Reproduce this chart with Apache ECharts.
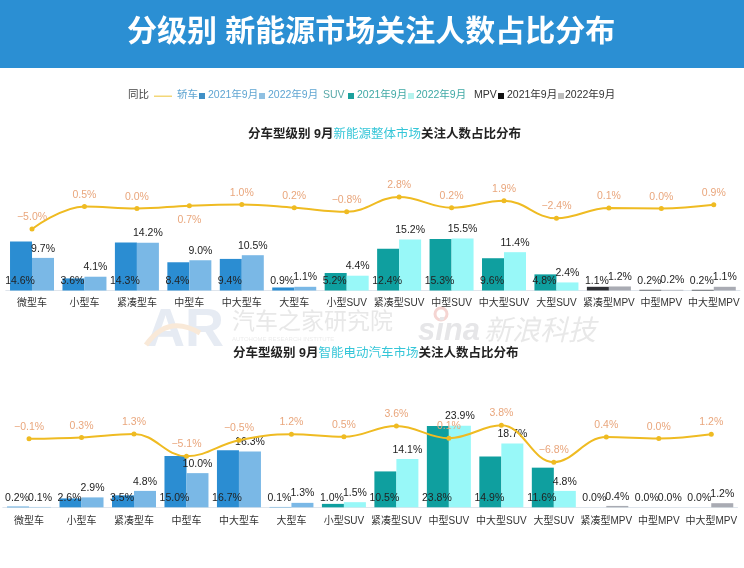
<!DOCTYPE html>
<html>
<head>
<meta charset="utf-8">
<script src="https://cdn.jsdelivr.net/npm/echarts@6/dist/echarts.min.js"></script>
<style>
html,body{margin:0;padding:0;background:#fff;}
#main{width:744px;height:568px;}
</style>
</head>
<body>
<div id="main"></div>
<script>
var categories = ['微型车','小型车','紧凑型车','中型车','中大型车','大型车','小型SUV','紧凑型SUV','中型SUV','中大型SUV','大型SUV','紧凑型MPV','中型MPV','中大型MPV'];

var allShare2021 = [14.6,3.6,14.3,8.4,9.4,0.9,5.2,12.4,15.3,9.6,4.8,1.1,0.2,0.2];
var allShare2022 = [9.7,4.1,14.2,9.0,10.5,1.1,4.4,15.2,15.5,11.4,2.4,1.2,0.2,1.1];
var allYoy = [-5.0,0.5,0.0,0.7,1.0,0.2,-0.8,2.8,0.2,1.9,-2.4,0.1,0.0,0.9];

var smartShare2021 = [0.2,2.6,3.5,15.0,16.7,0.1,1.0,10.5,23.8,14.9,11.6,0.0,0.0,0.0];
var smartShare2022 = [0.1,2.9,4.8,10.0,16.3,1.3,1.5,14.1,23.9,18.7,4.8,0.4,0.0,1.2];
var smartYoy = [-0.1,0.3,1.3,-5.1,-0.5,1.2,0.5,3.6,0.1,3.8,-6.8,0.4,0.0,1.2];

var colors2021 = ['#2b8dd2','#0f9f9f','#2f3035'];
var colors2022 = ['#7ab8e6','#98f8f8','#a9abb3'];
var orange = '#e9a67c';
var font = '"Liberation Sans","Noto Sans CJK SC",sans-serif';

function groupOf(i){
    return i < 6 ? 0 : (i < 11 ? 1 : 2);
}
function pct(v){
    return v.toFixed(1).replace('-','\u2212') + '%';
}
function barData(values, palette){
    return values.map(function(v,i){
        return {value:v, itemStyle:{color:palette[groupOf(i)]}};
    });
}
// labels that sit below the line instead of above it
function lineData(values, below){
    return values.map(function(v,i){
        if (below.indexOf(i) >= 0) return {value:v, label:{position:'bottom', distance:7}};
        return v;
    });
}
function makeSeries(idx, s21, s22, yoy, below){
    return [{
        type:'bar', xAxisIndex:idx, yAxisIndex:idx*2, barWidth:22, barGap:0,
        data:barData(s21, colors2021),
        label:{show:true, position:'insideBottom', distance:4, offset:[-1,0], color:'#222', fontSize:10.5, fontFamily:font,
            formatter:function(p){return pct(p.value);}}
    },{
        type:'bar', xAxisIndex:idx, yAxisIndex:idx*2, barWidth:22, barGap:0,
        data:barData(s22, colors2022),
        label:{show:true, position:'top', distance:4, color:'#222', fontSize:10.5, fontFamily:font,
            formatter:function(p){return pct(p.value);}}
    },{
        type:'line', xAxisIndex:idx, yAxisIndex:idx*2+1, smooth:0.4, symbol:'circle', symbolSize:5, z:5,
        data:lineData(yoy, below),
        lineStyle:{color:'#efbb22', width:2},
        itemStyle:{color:'#efbb22'},
        label:{show:true, position:'top', distance:4, color:orange, fontSize:10.5, fontFamily:font,
            formatter:function(p){return pct(p.value);}}
    }];
}
function xAxis(idx, margin){
    return {type:'category', gridIndex:idx, data:categories,
        axisTick:{show:false},
        axisLine:{lineStyle:{color:'#dfe5ec', width:1}},
        axisLabel:{interval:0, color:'#333', fontSize:10, margin:margin, fontFamily:font}};
}
function yAxis(idx, min, max){
    return {type:'value', gridIndex:idx, min:min, max:max, show:false, splitLine:{show:false}};
}
function titleOf(left, top, mid){
    return {left:left, top:top, text:'分车型级别 9月{c|'+mid+'}关注人数占比分布',
        textStyle:{fontSize:12.5, fontWeight:'bold', color:'#222', fontFamily:font,
            rich:{c:{fontSize:12.5, fontWeight:'normal', color:'#35c6d8', fontFamily:font}}}};
}
function legendText(x, str, color){
    return {type:'text', left:x, top:90, style:{text:str, fill:color, fontSize:10.5, fontFamily:font}};
}
function legendBox(x, color){
    return {type:'rect', left:x, top:93, shape:{width:6, height:6}, style:{fill:color}};
}
function markText(x, y, str, size, color, extra){
    var st = {text:str, fill:color, fontSize:size, fontFamily:font};
    for (var k in extra) st[k] = extra[k];
    return {type:'text', left:x, top:y, z:-1, style:st};
}

var graphics = [
    {type:'rect', left:0, top:0, z:-2, shape:{width:744, height:68}, style:{fill:'#2b8fd3'}},
    {type:'text', left:127, top:18, style:{text:'分级别 新能源市场关注人数占比分布', fill:'#fff', fontSize:30, fontWeight:'bold', fontFamily:font}},

    legendText(128,'同比','#444'),
    {type:'rect', left:154, top:95.5, shape:{width:18, height:1.5}, style:{fill:'#f3d778'}},
    legendText(177,'轿车','#5fa5d2'),
    legendBox(199,'#3f8fc6'),
    legendText(208,'2021年9月','#5fa5d2'),
    legendBox(259,'#8fc0e2'),
    legendText(268,'2022年9月','#5fa5d2'),
    legendText(323,'SUV','#58a9a9'),
    legendBox(348,'#1aa09c'),
    legendText(357,'2021年9月','#3fa9a5'),
    legendBox(408,'#b5f3ee'),
    legendText(416,'2022年9月','#3fa9a5'),
    legendText(474,'MPV','#333'),
    legendBox(498,'#111'),
    legendText(507,'2021年9月','#333'),
    legendBox(558,'#bdbdbd'),
    legendText(565,'2022年9月','#333'),

    // watermark
    markText(146,304,'AR',54,'#e6ebf3',{fontWeight:'bold'}),
    {type:'bezierCurve', z:-1, shape:{x1:146,y1:345,cpx1:160,cpy1:325,x2:200,y2:333,cpx2:178,cpy2:320},
        style:{stroke:'#f9e9d8', lineWidth:5, fill:'none'}},
    markText(232,311,'汽车之家研究院',23,'#e8e8e8'),
    markText(232,336,'AUTOHOME RESEARCH INSTITUTE',6,'#ececec'),
    {type:'circle', z:-1, shape:{cx:441, cy:314, r:6}, style:{stroke:'#f5d5d2', lineWidth:3, fill:'none'}},
    markText(418,316,'sina',31,'#e6e6e8',{fontWeight:'bold', fontStyle:'italic'}),
    markText(484,318,'新浪科技',28,'#e8e8e8',{fontStyle:'italic'})
];

var chart = echarts.init(document.getElementById('main'));
var option = {
    animation:false,
    backgroundColor:'#fff',
    title:[
        titleOf(243,123,'新能源整体市场'),
        titleOf(228,342,'智能电动汽车市场')
    ],
    graphic:graphics,
    grid:[
        {left:5.8, top:170.5, width:734.2, height:120},
        {left:2.8, top:400, width:734.7, height:107.3}
    ],
    xAxis:[xAxis(0,8), xAxis(1,9)],
    yAxis:[
        yAxis(0,0,35.7), yAxis(0,-20,9.27),
        yAxis(1,0,31.4), yAxis(1,-19.77,11.06)
    ],
    series:makeSeries(0, allShare2021, allShare2022, allYoy, [3])
        .concat(makeSeries(1, smartShare2021, smartShare2022, smartYoy, []))
};
chart.setOption(option);
</script>
</body>
</html>
